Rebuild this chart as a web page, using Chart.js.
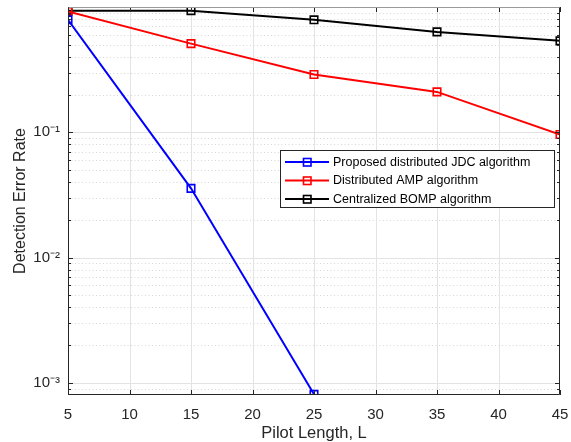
<!DOCTYPE html>
<html><head><meta charset="utf-8">
<script src="https://cdn.jsdelivr.net/npm/chart.js@4"></script>
<style>html,body{margin:0;padding:0;background:#fff}#wrap{width:571px;height:442px}</style>
</head><body><div id="wrap"><canvas id="c" width="571" height="442"></canvas></div>
<script>
const pilotLengths = [5, 15, 25, 35, 45];
const jdcRate  = [0.79, 0.0357, 0.00081, null, null];
const ampRate  = [0.92, 0.51, 0.289, 0.21, 0.096];
const bompRate = [0.935, 0.935, 0.79, 0.633, 0.537];
const seriesNames = ['Proposed distributed JDC algorithm', 'Distributed AMP algorithm', 'Centralized BOMP algorithm'];
const seriesColors = ['#0000ff', '#ff0000', '#000000'];
const xTicks = [5, 10, 15, 20, 25, 30, 35, 40, 45];
const yDecades = [1e-3, 1e-2, 1e-1];
const yLabels = ['10\u207B\u00B3', '10\u207B\u00B2', '10\u207B\u00B9'];
const yMinor = [9e-4, 2e-3,3e-3,4e-3,5e-3,6e-3,7e-3,8e-3,9e-3, 2e-2,3e-2,4e-2,5e-2,6e-2,7e-2,8e-2,9e-2, 0.2,0.3,0.4,0.5,0.6,0.7,0.8,0.9];

const toPts = arr => pilotLengths.map((x,i)=>({x, y: arr[i]})).filter(p=>p.y!==null);
const mk = (i, arr) => ({
  label: seriesNames[i], data: toPts(arr), borderColor: seriesColors[i], backgroundColor: seriesColors[i],
  borderWidth: 2, pointStyle: 'rect', pointRadius: 5.3, pointBorderWidth: 1.6,
  pointBackgroundColor: 'rgba(0,0,0,0)', pointBorderColor: seriesColors[i], tension: 0
});

const TXT = '#262626';
const gridPlugin = {
  id: 'mgrid',
  beforeDatasetsDraw(chart) {
    const {ctx, chartArea: a, scales: {x, y}} = chart;
    ctx.save();
    ctx.beginPath(); ctx.rect(a.left, a.top, a.right - a.left, a.bottom - a.top); ctx.clip();
    ctx.strokeStyle = '#d6d6d6'; ctx.lineWidth = 1; ctx.setLineDash([1, 2.5]);
    yMinor.forEach(v => { const py = Math.round(y.getPixelForValue(v)) + 0.5;
      ctx.beginPath(); ctx.moveTo(a.left, py); ctx.lineTo(a.right, py); ctx.stroke(); });
    ctx.setLineDash([]);
    ctx.strokeStyle = '#e3e3e3'; ctx.lineWidth = 1;
    yDecades.forEach(v => { const py = Math.round(y.getPixelForValue(v)) + 0.5;
      ctx.beginPath(); ctx.moveTo(a.left, py); ctx.lineTo(a.right, py); ctx.stroke(); });
    xTicks.forEach(v => { const px = Math.round(x.getPixelForValue(v)) + 0.5;
      ctx.beginPath(); ctx.moveTo(px, a.top); ctx.lineTo(px, a.bottom); ctx.stroke(); });
    ctx.restore();
  },
  afterDatasetsDraw(chart) {
    const {ctx, chartArea: a, scales: {x, y}} = chart;
    ctx.save();
    ctx.lineWidth = 1; ctx.strokeStyle = TXT;
    xTicks.forEach(v => { const px = Math.round(x.getPixelForValue(v)) + 0.5;
      ctx.beginPath(); ctx.moveTo(px, a.bottom); ctx.lineTo(px, a.bottom - 5);
      ctx.moveTo(px, a.top); ctx.lineTo(px, a.top + 5); ctx.stroke(); });
    yDecades.forEach(v => { const py = Math.round(y.getPixelForValue(v)) + 0.5;
      ctx.beginPath(); ctx.moveTo(a.left, py); ctx.lineTo(a.left + 5, py);
      ctx.moveTo(a.right, py); ctx.lineTo(a.right - 5, py); ctx.stroke(); });
    yMinor.forEach(v => { const py = Math.round(y.getPixelForValue(v)) + 0.5;
      ctx.beginPath(); ctx.moveTo(a.left, py); ctx.lineTo(a.left + 3, py);
      ctx.moveTo(a.right, py); ctx.lineTo(a.right - 3, py); ctx.stroke(); });
    const L = Math.round(a.left) + 0.5, R = Math.round(a.right) - 0.5, T = Math.round(a.top) + 0.5, B = Math.round(a.bottom) - 0.5;
    ctx.strokeStyle = '#999999';
    ctx.beginPath(); ctx.moveTo(L, T); ctx.lineTo(R, T); ctx.stroke();
    ctx.strokeStyle = TXT;
    ctx.beginPath(); ctx.moveTo(L, T); ctx.lineTo(L, B); ctx.lineTo(R, B); ctx.lineTo(R, T); ctx.stroke();
    // legend
    const lx = 280.5, ly = 150.5, lw = 274, lh = 57;
    ctx.fillStyle = '#fff'; ctx.fillRect(lx, ly, lw, lh);
    ctx.strokeStyle = '#262626'; ctx.strokeRect(lx, ly, lw, lh);
    ctx.font = '12.5px "Liberation Sans", Arial, sans-serif';
    ctx.textBaseline = 'middle'; ctx.textAlign = 'left';
    [162, 180.5, 199].forEach((ry, i) => {
      ctx.strokeStyle = seriesColors[i]; ctx.lineWidth = 2;
      ctx.beginPath(); ctx.moveTo(285, ry); ctx.lineTo(329, ry); ctx.stroke();
      ctx.lineWidth = 1.6; ctx.strokeRect(303.5, ry - 3.5, 7.5, 7.5);
      ctx.fillStyle = '#000'; ctx.fillText(seriesNames[i], 333, ry + 0.5);
    });
    ctx.restore();
  }
};

new Chart(document.getElementById('c'), {
  type: 'line',
  data: { datasets: [mk(0, jdcRate), mk(1, ampRate), mk(2, bompRate)] },
  options: {
    responsive: false, animation: false, devicePixelRatio: 1,
    layout: { padding: { left: 0, right: 11, top: 7, bottom: 0 } },
    plugins: { legend: { display: false }, tooltip: { enabled: false } },
    scales: {
      x: {
        type: 'linear', min: 5, max: 45,
        afterBuildTicks: s => { s.ticks = xTicks.map(v => ({value: v})); },
        afterFit: s => { s.height = 47; s.paddingLeft = 0; s.paddingRight = 0; },
        grid: { display: false, drawTicks: false }, border: { display: false },
        ticks: { color: TXT, font: { family: '"Liberation Sans", Arial, sans-serif', size: 15 }, padding: 11, maxRotation: 0 },
        title: { display: true, text: 'Pilot Length, L', color: TXT, font: { family: '"Liberation Sans", Arial, sans-serif', size: 16.5 }, padding: { top: 0, bottom: -1 } }
      },
      y: {
        type: 'logarithmic', min: 8e-4, max: 1,
        afterBuildTicks: s => { s.ticks = yDecades.map(v => ({value: v})); },
        afterFit: s => { s.width = 68; s.paddingTop = 0; s.paddingBottom = 0; },
        grid: { display: false, drawTicks: false }, border: { display: false },
        ticks: { color: TXT, font: { family: '"Liberation Sans", Arial, sans-serif', size: 15 }, padding: 8,
          callback: (v, i) => yLabels[yDecades.indexOf(v)] ?? '' },
        title: { display: true, text: 'Detection Error Rate', color: TXT, font: { family: '"Liberation Sans", Arial, sans-serif', size: 16 }, padding: { top: 11, bottom: 0 } }
      }
    }
  },
  plugins: [gridPlugin]
});
</script></body></html>
